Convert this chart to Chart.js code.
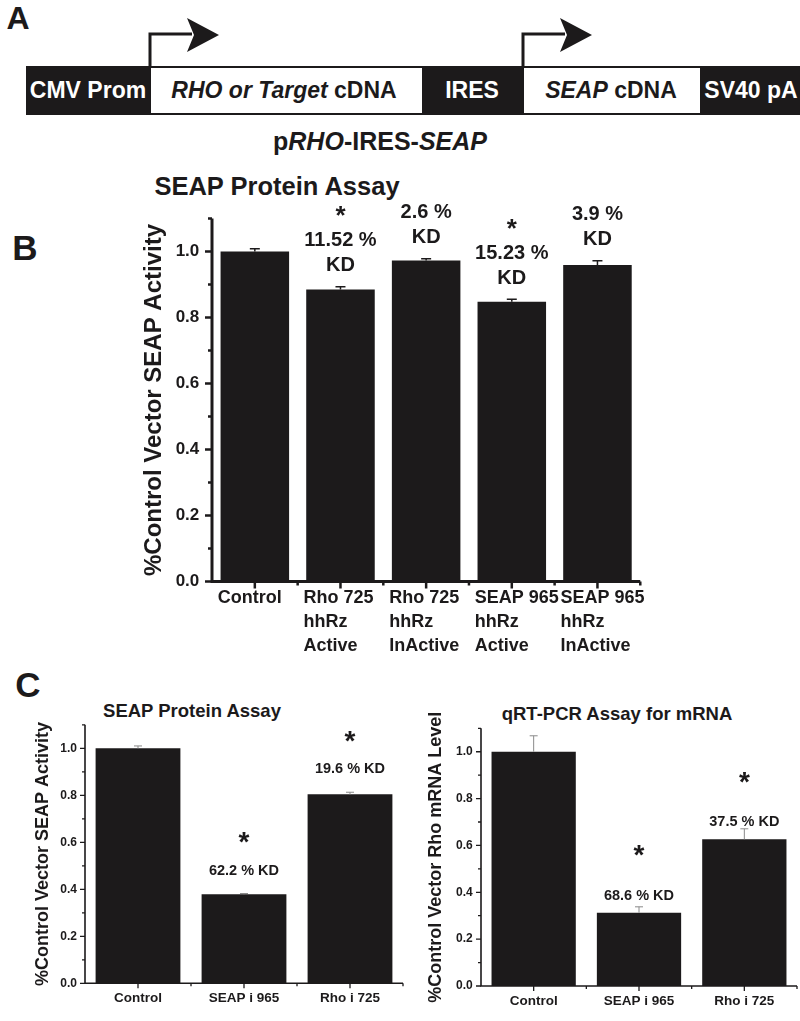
<!DOCTYPE html>
<html><head><meta charset="utf-8">
<script src="https://cdn.jsdelivr.net/npm/chart.js@4.4.1/dist/chart.umd.min.js"></script>
<style>
html,body{margin:0;padding:0;background:#fff;}
body{width:800px;height:1021px;position:relative;overflow:hidden;font-family:"Liberation Sans",Arial,Helvetica,sans-serif;font-weight:bold;color:#1c1a1b;}
.t{position:absolute;white-space:nowrap;line-height:1;transform:translate(-50%,-50%);}
canvas{position:absolute;}
svg{position:absolute;left:0;top:0;}
</style></head><body>

<svg width="800" height="130">
  <rect x="26" y="66" width="124" height="49" fill="#1c1a1b"/>
  <rect x="150" y="67" width="273" height="47" fill="#fff" stroke="#1c1a1b" stroke-width="2"/>
  <rect x="423" y="66" width="100" height="49" fill="#1c1a1b"/>
  <rect x="523" y="67" width="178" height="47" fill="#fff" stroke="#1c1a1b" stroke-width="2"/>
  <rect x="701" y="66" width="99" height="49" fill="#1c1a1b"/>
  <polyline points="150,67 150,34 192,34" fill="none" stroke="#1c1a1b" stroke-width="3"/>
  <polygon points="187,18 219,35 187,52 194,35" fill="#1c1a1b"/>
  <polyline points="523,67 523,34 565,34" fill="none" stroke="#1c1a1b" stroke-width="3"/>
  <polygon points="560,18 592,35 560,52 567,35" fill="#1c1a1b"/>
</svg>

<div class="t" style="left:18px;top:18px;font-size:32px;">A</div>
<div class="t" style="left:88px;top:90px;font-size:23px;color:#fff;">CMV Prom</div>
<div class="t" style="left:284px;top:90px;font-size:23px;"><i>RHO or Target</i> cDNA</div>
<div class="t" style="left:472px;top:90px;font-size:23px;color:#fff;">IRES</div>
<div class="t" style="left:611px;top:90px;font-size:23px;"><i>SEAP</i> cDNA</div>
<div class="t" style="left:751px;top:90px;font-size:23px;color:#fff;">SV40 pA</div>
<div class="t" style="left:380px;top:141px;font-size:25px;">p<i>RHO</i>-IRES-<i>SEAP</i></div>

<div class="t" style="left:25px;top:247px;font-size:35px;">B</div>
<div class="t" style="left:277px;top:187px;font-size:25.5px;">SEAP Protein Assay</div>

<div class="t" style="left:28px;top:684px;font-size:35px;">C</div>
<div class="t" style="left:192px;top:711px;font-size:18.5px;">SEAP Protein Assay</div>
<div class="t" style="left:617px;top:714px;font-size:18.5px;">qRT-PCR Assay for mRNA</div>

<canvas id="chartB" width="580" height="500" style="left:110px;top:170px;"></canvas>
<canvas id="chartC1" width="415" height="321" style="left:0px;top:700px;"></canvas>
<canvas id="chartC2" width="400" height="321" style="left:400px;top:700px;"></canvas>

<script>
// ---------- data ----------
const bCategories = [['Control'], ['Rho 725','hhRz','Active'], ['Rho 725','hhRz','InActive'], ['SEAP 965','hhRz','Active'], ['SEAP 965','hhRz','InActive']];
const bValues = [1.0, 0.885, 0.973, 0.848, 0.959];
const bErrors = [0.008, 0.008, 0.005, 0.007, 0.013];
const bNotes = [[], ['*','11.52 %','KD'], ['2.6 %','KD'], ['*','15.23 %','KD'], ['3.9 %','KD']];

const cCategories = ['Control', 'SEAP i 965', 'Rho i 725'];
const cProteinValues = [1.0, 0.379, 0.804];
const cProteinErrors = [0.010, 0.003, 0.009];
const cProteinNotes = [[], ['*','62.2 % KD'], ['*','19.6 % KD']];
const cMrnaValues = [1.0, 0.313, 0.626];
const cMrnaErrors = [0.068, 0.025, 0.045];
const cMrnaNotes = [[], ['*','68.6 % KD'], ['*','37.5 % KD']];

const yTickValues = [0, 0.2, 0.4, 0.6, 0.8, 1.0];
const yMinorValues = [0.1, 0.3, 0.5, 0.7, 0.9, 1.1];
const yMax = 1.1;

// ---------- styling ----------
const FONT = "'Liberation Sans', Arial, Helvetica, sans-serif";
const INK = '#1c1a1b';

const axesPlugin = {
  id: 'origAxes',
  afterDatasetsDraw(chart, args, o) {
    const {ctx, chartArea: {left, right, top, bottom}, scales: {x, y}} = chart;
    ctx.save();
    ctx.strokeStyle = o.color;
    ctx.lineWidth = o.lineWidth;
    ctx.lineCap = 'butt';
    ctx.beginPath();
    ctx.moveTo(left, top);
    ctx.lineTo(left, bottom + o.lineWidth / 2);
    ctx.moveTo(left - o.lineWidth / 2, bottom);
    ctx.lineTo(right, bottom);
    ctx.stroke();
    ctx.lineWidth = o.tickWidth;
    ctx.beginPath();
    o.major.forEach(v => { const py = y.getPixelForValue(v); ctx.moveTo(left, py); ctx.lineTo(left - o.majorLen, py); });
    o.minor.forEach(v => { const py = y.getPixelForValue(v); ctx.moveTo(left, py); ctx.lineTo(left - o.minorLen, py); });
    const n = chart.data.labels.length;
    const w = (right - left) / n;
    for (let i = 0; i < n; i++) {
      const px = x.getPixelForValue(i);
      ctx.moveTo(px, bottom); ctx.lineTo(px, bottom + o.majorLen);
    }
    for (let k = 1; k <= n; k++) {
      const px = left + k * w;
      ctx.moveTo(px, bottom); ctx.lineTo(px, bottom + o.minorLen);
    }
    ctx.stroke();
    ctx.restore();
  }
};

const errPlugin = {
  id: 'errBars',
  afterDatasetsDraw(chart, args, o) {
    const {ctx, scales: {y}} = chart;
    const vals = chart.data.datasets[0].data;
    ctx.save();
    ctx.strokeStyle = o.color;
    ctx.lineWidth = o.width;
    chart.getDatasetMeta(0).data.forEach((bar, i) => {
      const yTop = y.getPixelForValue(vals[i] + o.errors[i]);
      const yVal = y.getPixelForValue(vals[i]);
      ctx.beginPath();
      ctx.moveTo(bar.x, yVal); ctx.lineTo(bar.x, yTop);
      ctx.moveTo(bar.x - o.cap, yTop); ctx.lineTo(bar.x + o.cap, yTop);
      ctx.stroke();
    });
    ctx.restore();
  }
};

const notesPlugin = {
  id: 'notes',
  afterDatasetsDraw(chart, args, o) {
    const {ctx, scales: {y}} = chart;
    const vals = chart.data.datasets[0].data;
    ctx.save();
    ctx.fillStyle = INK;
    ctx.textAlign = 'center';
    ctx.textBaseline = 'middle';
    chart.getDatasetMeta(0).data.forEach((bar, i) => {
      const lines = o.notes[i];
      if (!lines.length) return;
      const base = o.fromError ? vals[i] + o.errors[i] : vals[i];
      let cy = y.getPixelForValue(base) - o.gap;
      for (let k = lines.length - 1; k >= 0; k--) {
        const t = lines[k];
        if (k < lines.length - 1) cy -= (t === '*') ? o.starGap : o.lineGap;
        if (t === '*') {
          ctx.font = `bold ${o.starSize}px ${FONT}`;
          ctx.fillText(t, bar.x, cy + o.starSize * 0.25);
        } else {
          ctx.font = `bold ${o.textSize}px ${FONT}`;
          ctx.fillText(t, bar.x, cy);
        }
      }
    });
    ctx.restore();
  }
};

function buildChart(id, c) {
  return new Chart(document.getElementById(id), {
    type: 'bar',
    data: {
      labels: c.labels,
      datasets: [{data: c.values, backgroundColor: INK, borderWidth: 0, barPercentage: 0.8, categoryPercentage: 1.0}]
    },
    options: {
      responsive: false, animation: false, devicePixelRatio: 1,
      layout: {padding: {top: c.padTop, right: c.padRight, left: 0, bottom: 0}},
      plugins: {
        legend: {display: false}, tooltip: {enabled: false},
        origAxes: {color: INK, lineWidth: c.axisWidth, tickWidth: c.tickWidth, majorLen: c.majorLen, minorLen: c.minorLen, major: yTickValues, minor: yMinorValues},
        errBars: {errors: c.errors, color: c.errColor, width: c.errWidth, cap: c.cap},
        notes: {notes: c.notes, errors: c.errors, fromError: c.fromError, gap: c.gap, lineGap: c.lineGap, starGap: c.starGap, textSize: c.noteSize, starSize: c.starSize}
      },
      scales: {
        x: {
          type: 'category', offset: true,
          grid: {display: false, drawTicks: false}, border: {display: false},
          ticks: {color: INK, font: {family: FONT, weight: 'bold', size: c.xFont, lineHeight: c.xLine}, padding: c.xPad,
                  align: c.xAlign, labelOffset: c.xOffset, maxRotation: 0, autoSkip: false},
          afterFit: s => { s.height = c.xHeight; }
        },
        y: {
          min: 0, max: yMax,
          grid: {display: false, drawTicks: false}, border: {display: false},
          afterBuildTicks: s => { s.ticks = yTickValues.map(v => ({value: v})); },
          ticks: {color: INK, font: {family: FONT, weight: 'bold', size: c.yFont}, padding: c.yPad, callback: v => Number(v).toFixed(1)},
          title: {display: true, text: c.yTitle, color: INK, font: {family: FONT, weight: 'bold', size: c.yTitleSize, lineHeight: 1.2}, padding: {top: c.yTitlePad, bottom: 0}},
          afterFit: s => { s.width = c.yWidth; }
        }
      }
    },
    plugins: [axesPlugin, errPlugin, notesPlugin]
  });
}

buildChart('chartB', {
  labels: bCategories, values: bValues, errors: bErrors, notes: bNotes,
  padTop: 48.5, padRight: 35, yWidth: 102, xHeight: 88.5,
  axisWidth: 3, tickWidth: 2.5, majorLen: 7, minorLen: 4,
  errColor: INK, errWidth: 1.5, cap: 5,
  fromError: true, gap: 21, lineGap: 25, starGap: 30, noteSize: 20, starSize: 26,
  xFont: 18, xLine: 1.33, xPad: 5, xAlign: 'start', xOffset: -37,
  yFont: 17, yPad: 12.7, yTitle: '%Control Vector SEAP Activity', yTitleSize: 24, yTitlePad: 29.6
});

buildChart('chartC1', {
  labels: cCategories, values: cProteinValues, errors: cProteinErrors, notes: cProteinNotes,
  padTop: 24.8, padRight: 12, yWidth: 85, xHeight: 37.7,
  axisWidth: 1.6, tickWidth: 1.3, majorLen: 5, minorLen: 3,
  errColor: '#8a8a8a', errWidth: 1, cap: 4,
  fromError: true, gap: 23, lineGap: 20, starGap: 34, noteSize: 14.5, starSize: 28,
  xFont: 13.5, xLine: 1.2, xPad: 7, xAlign: 'center', xOffset: 0,
  yFont: 12, yPad: 8, yTitle: '%Control Vector SEAP Activity', yTitleSize: 18, yTitlePad: 32
});

buildChart('chartC2', {
  labels: cCategories, values: cMrnaValues, errors: cMrnaErrors, notes: cMrnaNotes,
  padTop: 28.3, padRight: 3, yWidth: 81, xHeight: 35,
  axisWidth: 1.6, tickWidth: 1.3, majorLen: 5, minorLen: 3,
  errColor: '#8a8a8a', errWidth: 1, cap: 4,
  fromError: false, gap: 17, lineGap: 20, starGap: 46, noteSize: 14.5, starSize: 28,
  xFont: 13.5, xLine: 1.2, xPad: 7, xAlign: 'center', xOffset: 0,
  yFont: 12, yPad: 8.3, yTitle: '%Control Vector Rho mRNA Level', yTitleSize: 18, yTitlePad: 25.7
});
</script>
</body></html>
